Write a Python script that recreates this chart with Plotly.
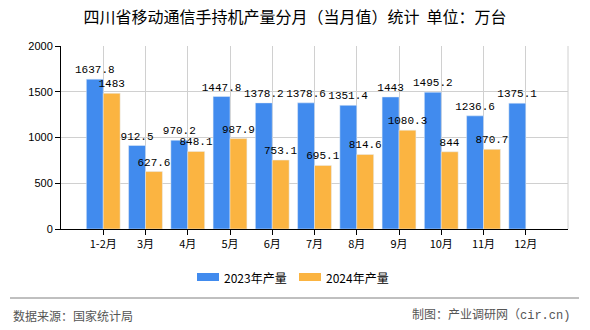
import plotly.graph_objects as go

categories = ["1-2月", "3月", "4月", "5月", "6月", "7月", "8月", "9月", "10月", "11月", "12月"]
values_2023 = [1637.8, 912.5, 970.2, 1447.8, 1378.2, 1378.6, 1351.4, 1443, 1495.2, 1236.6, 1375.1]
values_2024 = [1483, 627.6, 848.1, 987.9, 753.1, 695.1, 814.6, 1080.3, 844, 870.7, None]
labels_2023 = ["1637.8", "912.5", "970.2", "1447.8", "1378.2", "1378.6", "1351.4", "1443", "1495.2", "1236.6", "1375.1"]
labels_2024 = ["1483", "627.6", "848.1", "987.9", "753.1", "695.1", "814.6", "1080.3", "844", "870.7", ""]
series_names = ["2023年产量", "2024年产量"]

BLUE = "#418BEE"
ORANGE = "#FBB441"
label_font = dict(family="Liberation Mono, DejaVu Sans Mono, Noto Sans CJK SC", size=11, color="#000")

# plot area in pixels
L, R, T, B = 61, 568, 46, 229
W, H = R - L, B - T


def px(x):
    return (x - L) / W


def py(y):
    return (B - y) / H


fig = go.Figure()
fig.add_trace(go.Bar(x=categories, y=values_2023, name=series_names[0], marker_color=BLUE,
                     text=labels_2023, textposition="outside", textfont=label_font,
                     constraintext="none", cliponaxis=False))
fig.add_trace(go.Bar(x=categories, y=values_2024, name=series_names[1], marker_color=ORANGE,
                     text=labels_2024, textposition="outside", textfont=label_font,
                     constraintext="none", cliponaxis=False))

fig.update_layout(
    width=590, height=330,
    margin=dict(l=L, r=590 - R, t=T, b=330 - B),
    paper_bgcolor="white", plot_bgcolor="white",
    barmode="group", bargap=0.2, bargroupgap=0,
    font=dict(family="Noto Sans CJK SC", size=11, color="#000"),
    title=dict(text="四川省移动通信手持机产量分月（当月值）统计  单位：万台",
               x=0.5, xanchor="center", y=1 - 17 / 330, yanchor="middle",
               font=dict(family="Noto Sans CJK SC", size=16, color="#000")),
    showlegend=False,
)
fig.update_xaxes(range=[-1, 11], showline=True, linecolor="#000", linewidth=1,
                 ticks="outside", ticklen=5, tickcolor="#000",
                 showgrid=True, gridcolor="#d0d0d0", gridwidth=1,
                 tickfont=dict(family="Noto Sans CJK SC", size=11, color="#000"))
fig.update_yaxes(range=[0, 2000], tickvals=[0, 500, 1000, 1500, 2000], showline=True,
                 linecolor="#000", linewidth=1, ticks="outside", ticklen=5, tickcolor="#000",
                 showgrid=True, gridcolor="#d0d0d0", gridwidth=1, zeroline=False,
                 tickfont=dict(family="Liberation Sans, Noto Sans", size=11, color="#000"))

# right border of plot area
fig.add_shape(type="line", xref="paper", yref="paper", x0=1, x1=1, y0=0, y1=1,
              line=dict(color="#d0d0d0", width=1))

# manual legend
legend_items = [(series_names[0], BLUE, 197), (series_names[1], ORANGE, 299)]
for name, color, x0 in legend_items:
    fig.add_shape(type="rect", xref="paper", yref="paper",
                  x0=px(x0), x1=px(x0 + 22), y0=py(281), y1=py(273),
                  fillcolor=color, line=dict(width=0))
    fig.add_annotation(text=name, xref="paper", yref="paper",
                       x=px(x0 + 25), xanchor="left", y=py(277), yanchor="middle",
                       showarrow=False,
                       font=dict(family="Noto Sans CJK SC", size=12, color="#000"))

# footer separator
fig.add_shape(type="line", xref="paper", yref="paper", x0=px(10), x1=px(579),
              y0=py(298), y1=py(298), line=dict(color="#808080", width=1))
fig.add_annotation(text="数据来源：国家统计局", xref="paper", yref="paper",
                   x=px(11), xanchor="left", y=py(315), yanchor="middle",
                   showarrow=False, font=dict(family="Noto Sans CJK SC", size=12, color="#555"))
fig.add_annotation(text="制图：产业调研网（cir.cn)", xref="paper", yref="paper",
                   x=px(572), xanchor="right", y=py(315), yanchor="middle",
                   showarrow=False,
                   font=dict(family="Liberation Mono, Noto Sans CJK SC", size=12, color="#555"))

fig.write_html("out.html")
